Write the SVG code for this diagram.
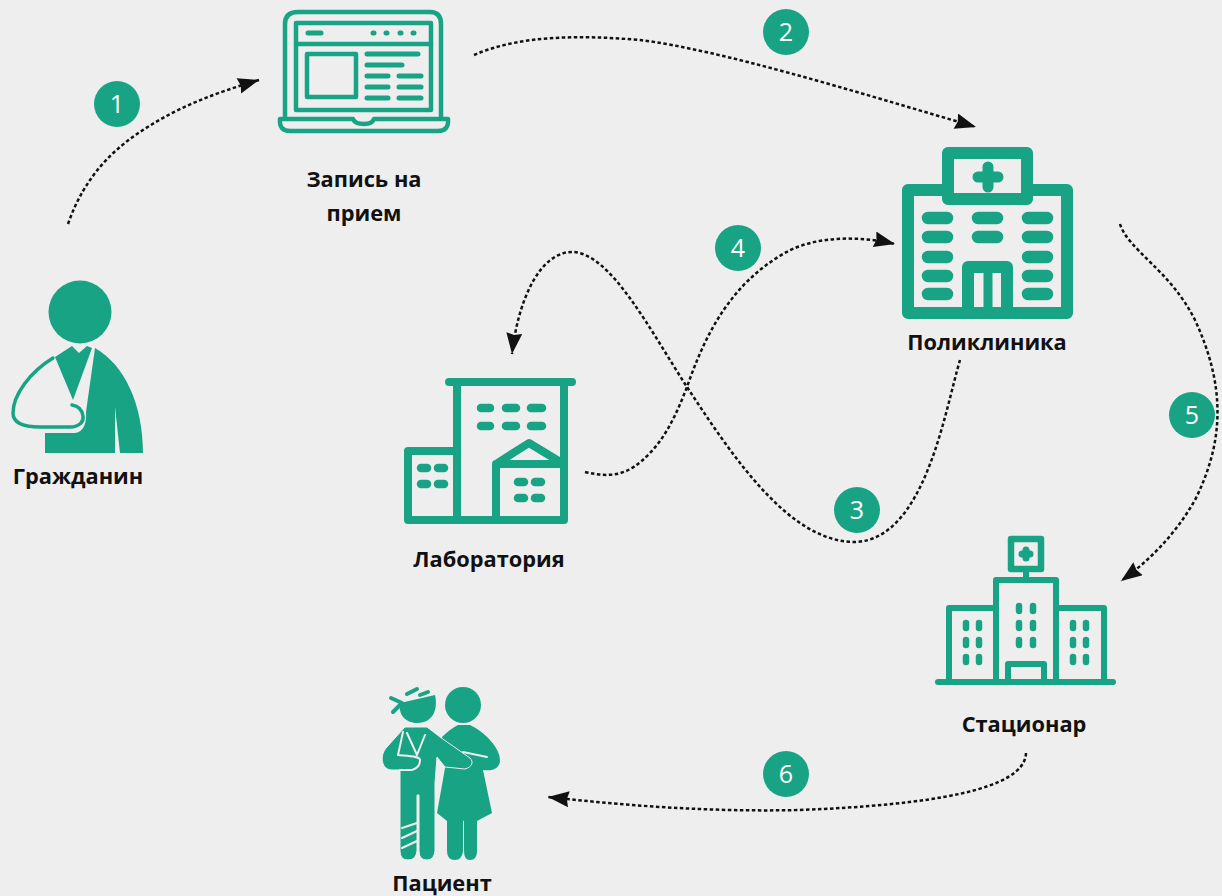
<svg xmlns="http://www.w3.org/2000/svg" width="1222" height="896" viewBox="0 0 1222 896">
<style>
text{font-family:"Open Sans","Liberation Sans",sans-serif}
.l{font-size:21.8px;font-weight:700;fill:#111;text-anchor:middle}
.n{font-size:25px;fill:#fff;text-anchor:middle}
.b{fill:#19a385}
.o{fill:none;stroke:#19a385;stroke-linejoin:round;stroke-linecap:round}
.w{fill:none;stroke:#eeeeee;stroke-linecap:round;stroke-linejoin:round}
.c{fill:none;stroke:#111;stroke-width:2.5;stroke-dasharray:3.5 2.5;marker-end:url(#a)}
</style>
<defs><marker id="a" markerUnits="userSpaceOnUse" markerWidth="23" markerHeight="18" refX="22" refY="8" orient="auto"><path d="M1 0L22 8L1 16L3 8Z" fill="#111"/></marker></defs>
<rect width="1222" height="896" fill="#eeeeee"/>
<g id="connectors">
<path class="c" d="M68 224C85 175 115 148 143 130C180 106 215 93 259 80"/>
<path class="c" d="M474 55C520 35 580 35 640 40C720 50 850 90 976 127"/>
<path class="c" d="M960 360C945 410 925 540 855 542C790 542 735 460 687 387C650 330 610 252 572 252C540 252 518 300 512 354"/>
<path class="c" d="M585 472C612 478 628 476 650 453C668 434 678 410 687 387C705 335 730 285 783 254C815 235 860 236 895 244"/>
<path class="c" d="M1120 224C1128 250 1170 270 1195 320C1225 385 1225 440 1195 500C1175 535 1150 560 1121 581"/>
<path class="c" d="M1026 753C1025 790 930 805 800 810C710 812 630 806 548 797"/>
</g>
<g id="badge-1"><circle class="b" cx="117" cy="104" r="23"/><text class="n" x="117" y="113">1</text></g>
<g id="badge-2"><circle class="b" cx="786" cy="32" r="23"/><text class="n" x="786" y="41">2</text></g>
<g id="badge-3"><circle class="b" cx="857" cy="510" r="23"/><text class="n" x="857" y="519">3</text></g>
<g id="badge-4"><circle class="b" cx="738" cy="248" r="23"/><text class="n" x="738" y="257">4</text></g>
<g id="badge-5"><circle class="b" cx="1192" cy="415" r="23"/><text class="n" x="1192" y="424">5</text></g>
<g id="badge-6"><circle class="b" cx="786" cy="774" r="23"/><text class="n" x="786" y="783">6</text></g>

<g id="citizen">
<circle class="b" cx="80" cy="312" r="31.5"/>
<path class="b" d="M55 357L72 346L79 353L87 346L92 348L73 400Z"/>
<path class="b" d="M95 348C125 365 143 405 143 453H120L115 407V453H45V433H75C84 432 87 422 86 412Z"/>
<path d="M53 358C30 372 13 395 13 413C13 424 24 427 40 427H70C80 427 84 421 83 416C82 409 78 406 72 405" fill="none" stroke="#19a385" stroke-width="3.5" stroke-linecap="round"/>
<text class="l" x="78" y="484">Гражданин</text>
</g>

<g id="booking">
<path class="o" stroke-width="4.5" d="M285 118V24Q285 12 298 12H430Q441 12 441 24V118"/>
<rect class="o" stroke-width="4.5" x="296" y="23" width="135" height="87"/>
<path class="o" stroke-width="4.5" d="M296 44H431"/>
<rect class="o" stroke-width="4.5" x="307" y="54" width="49" height="43"/>
<path class="o" stroke-width="5" d="M308 33H321M373 33H374M386 33H387M400 33H401M413 33H414M367 54H418M367 65H402M367 76H388M399 76H421M367 87H388M399 87H421M367 98H388M399 98H421"/>
<path class="o" stroke-width="4.5" d="M280 119H353Q355 124 364 124Q372 124 374 119H448Q449 131 438 131H290Q279 131 280 119Z"/>
<text class="l" x="364" y="187">Запись на</text>
<text class="l" x="364" y="221">прием</text>
</g>

<g id="clinic">
<path class="o" stroke-width="12" d="M947 190H908V313H1067V190H1030"/>
<rect class="o" stroke-width="12" x="948" y="153" width="79" height="46"/>
<path class="o" stroke-width="11" d="M988 167V187M978 177H998"/>
<path class="o" stroke-width="12.5" d="M928 218H947M978 218H997M1028 218H1047M928 237H947M978 237H997M1028 237H1047M928 257H947M1028 257H1047M928 276H947M1028 276H1047M928 294H947M1028 294H1047"/>
<path class="o" stroke-width="12" d="M968 312V267H1007V312"/>
<path class="o" stroke-width="9" d="M988 268V312"/>
<text class="l" x="987" y="350">Поликлиника</text>
</g>

<g id="lab">
<path class="o" stroke-width="8" d="M449 382H572M457 382V520M564 382V520M457 451H408V520H564"/>
<path class="o" stroke-width="8" d="M496 520V464L529 443L562 463M496 464H564"/>
<path class="o" stroke-width="8.5" d="M481 408H490M506 408H516M531 408H542M481 426H490M506 426H516M531 426H542M421 468H427M438 468H444M421 484H427M438 484H444M518 482H524M535 482H541M518 498H524M535 498H541"/>
<text class="l" x="489" y="567">Лаборатория</text>
</g>

<g id="hospital">
<rect class="o" stroke-width="6.5" x="1011" y="539" width="30" height="30"/>
<path class="o" stroke-width="7" d="M1026 550V558M1022 554H1030"/>
<path class="o" stroke-width="6" d="M1026 572V578"/>
<path class="o" stroke-width="6" d="M996 682V580H1056V682M996 608H949V682M1056 608H1104V682M1008 682V664H1044V682"/>
<path class="o" stroke-width="6" d="M938 682H1113"/>
<path class="o" stroke-width="6.5" d="M966 623V628M979 623V628M966 640V645M979 640V645M966 657V662M979 657V662M1019 606V611M1033 606V611M1019 623V628M1033 623V628M1019 640V645M1033 640V645M1073 623V628M1086 623V628M1073 640V645M1086 640V645M1073 657V662M1086 657V662"/>
<text class="l" x="1024" y="732">Стационар</text>
</g>

<g id="patient">
<circle class="b" cx="463" cy="705" r="18"/>
<path class="b" d="M458 725H470C485 732 500 748 500 760C500 770 490 771 483 770L492 813L477 821V851Q477 860 470 860Q464 860 464 851V821H463V851Q462 860 455 860Q447 860 447 851V821L437 813L445 768L442 737Q450 729 458 725Z"/>
<path class="w" stroke-width="2" d="M463 752L487 757"/>
<path class="b" d="M400 703L435 695C438 708 434 723 417 723C405 723 398 714 400 703Z"/>
<path class="o" stroke-width="4" d="M407 694L417 689M420 695L428 692M391 698L402 703L393 712"/>
<path class="b" d="M405 727H427L440 737L470 758C474 762 472 767 465 769L445 767L437 757L435 783V851Q434 860 427 860Q419 860 419 851V795H417V851Q416 860 408 860Q400 860 400 851V770H392C382 770 379 757 386 748Z" stroke="#eeeeee" stroke-width="1"/>
<path class="w" stroke-width="2" d="M403 732L398 755M407 733L417 755M425 735L417 755M398 755C410 756 420 756 420 760C420 766 417 768 412 770H400M402 828L417 823M402 838L417 831M402 848L417 841"/>
<text class="l" x="442" y="891">Пациент</text>
</g>
</svg>
